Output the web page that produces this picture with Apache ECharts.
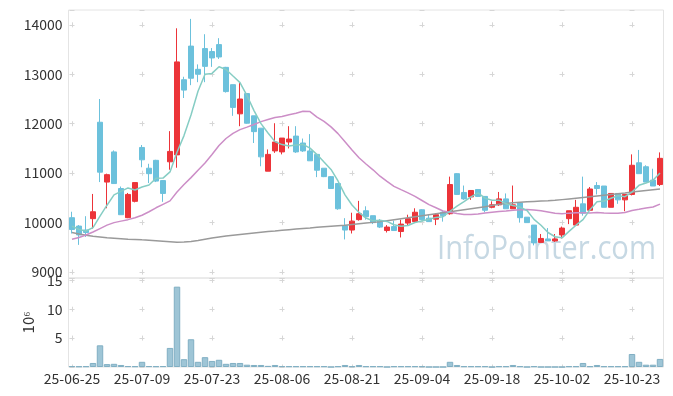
<!DOCTYPE html>
<html><head><meta charset="utf-8">
<script src="https://cdn.jsdelivr.net/npm/echarts@6/dist/echarts.min.js"></script>
<style>html,body{margin:0;padding:0;background:#fff}#c{width:673px;height:396px}</style>
</head><body><div id="c"></div>
<script>
const dates = ['25-06-25','25-06-26','25-06-27','25-06-30','25-07-01','25-07-02','25-07-03','25-07-04','25-07-07','25-07-08',
'25-07-09','25-07-10','25-07-11','25-07-14','25-07-15','25-07-16','25-07-17','25-07-18','25-07-21','25-07-22',
'25-07-23','25-07-24','25-07-25','25-07-28','25-07-29','25-07-30','25-07-31','25-08-01','25-08-04','25-08-05',
'25-08-06','25-08-07','25-08-08','25-08-11','25-08-12','25-08-13','25-08-14','25-08-18','25-08-19','25-08-20',
'25-08-21','25-08-22','25-08-25','25-08-26','25-08-27','25-08-28','25-08-29','25-09-01','25-09-02','25-09-03',
'25-09-04','25-09-05','25-09-08','25-09-09','25-09-10','25-09-11','25-09-12','25-09-15','25-09-16','25-09-17',
'25-09-18','25-09-19','25-09-22','25-09-23','25-09-24','25-09-25','25-09-26','25-09-29','25-09-30','25-10-01',
'25-10-02','25-10-10','25-10-13','25-10-14','25-10-15','25-10-16','25-10-17','25-10-20','25-10-21','25-10-22',
'25-10-23','25-10-24','25-10-27','25-10-28','25-10-29'];

const opens = [10100,9930,9850,10080,12030,10820,11430,10690,10100,10430,
11520,11100,11260,10850,11230,11370,12890,13570,13100,13520,
13460,13600,13140,12790,12200,12610,12160,11910,11040,11450,
11430,11630,11750,11610,11450,11380,11100,10930,10790,9940,
9850,10060,10240,10140,10040,9840,9920,9820,9990,10020,
10260,10090,10070,10210,10180,10990,10610,10520,10670,10530,
10310,10360,10480,10280,10400,10110,9950,9600,9670,9630,
9750,10080,9950,10380,10250,10750,10740,10310,10590,10460,
10570,11210,11130,10860,10770];

const closes = [9860,9750,9800,10220,11020,10970,10790,10160,10570,10810,
11270,10990,10840,10590,11440,13250,12680,12920,13000,13160,
13330,13350,12650,12330,12500,12010,11840,11330,11380,11630,
11710,11690,11430,11450,11250,11060,10930,10690,10280,9850,
10030,10180,10120,10000,9910,9910,9840,9970,10080,10210,
10060,10020,10160,10140,10770,10570,10480,10650,10530,10250,
10360,10480,10280,10360,10100,10000,9590,9680,9630,9670,
9890,10240,10310,10190,10680,10690,10310,10590,10460,10570,
11160,10990,10820,10740,11300];

const lows = [9780,9550,9710,9880,10820,10290,10790,10160,10090,10410,
11120,10800,10820,10420,11070,11110,12520,12780,12840,12840,
13150,13310,12630,12160,11950,12000,11610,11140,11040,11410,
11380,11500,11410,11430,11250,10920,10920,10680,10260,9660,
9780,10040,10060,9970,9890,9800,9840,9700,9950,10000,
10040,10020,9950,10020,10160,10560,10460,10460,10520,10210,
10290,10340,10280,10280,10000,10000,9540,9600,9630,9610,
9680,9970,9950,10140,10250,10570,10310,10310,10380,10230,
10550,10990,10820,10740,10740];

const highs = [10220,9950,10130,10580,12500,10990,11460,10730,10600,10810,
11570,11190,11270,10860,11850,13930,12950,14120,13200,13810,
13530,13730,13150,12790,12830,12610,12160,11910,11480,12010,
11710,11950,11950,11700,11790,11380,11100,10940,10790,10090,
10200,10440,10330,10140,10070,9950,10040,10060,10160,10290,
10270,10160,10190,10230,10930,11000,10750,10650,10680,10530,
10430,10620,10590,10750,10400,10110,9950,9770,9890,9770,
9920,10240,10460,10930,10720,10820,10740,10590,10590,10570,
11380,11470,11160,11090,11420];

// volume in millions of shares
const volumes = [0.15,0.1,0.12,0.7,3.75,0.5,0.55,0.35,0.15,0.12,
0.9,0.15,0.12,0.15,3.3,13.9,1.35,4.8,0.9,1.7,
1.05,1.25,0.55,0.7,0.7,0.4,0.35,0.35,0.2,0.35,
0.15,0.12,0.12,0.12,0.12,0.12,0.12,0,0.12,0.35,
0.12,0.35,0.12,0.12,0.12,0,0.12,0.12,0.12,0.12,
0.12,0,0,0,0.9,0.35,0.12,0.12,0.12,0.12,
0,0.12,0.12,0.35,0.12,0,0.12,0,0,0,
0,0.12,0.12,0.7,0.12,0.35,0.12,0.12,0.12,0.12,
2.25,0.9,0.4,0.4,1.4];

const ma5 = [9930,9860,9830,9900,10130,10352,10560,10632,10702,10660,
10720,10760,10896,10900,11026,11422,11760,12176,12658,13002,
13018,13152,13098,12964,12832,12568,12266,12002,11812,11638,
11578,11548,11568,11582,11506,11376,11224,11076,10842,10562,
10356,10206,10092,10036,10048,10024,9956,9926,9942,10002,
10032,10068,10106,10118,10230,10332,10424,10522,10600,10496,
10454,10454,10380,10346,10316,10244,10066,9946,9800,9714,
9692,9822,9948,10060,10262,10422,10436,10492,10546,10524,
10618,10754,10800,10856,11002];

const ma20 = [9665,9700,9750,9810,9880,9950,10000,10030,10060,10100,
10150,10220,10300,10370,10440,10620,10770,10910,11060,11205,
11378,11558,11701,11806,11880,11932,11985,12043,12084,12125,
12147,12182,12211,12254,12245,12135,12048,11936,11800,11635,
11470,11311,11185,11068,10939,10834,10734,10666,10601,10530,
10447,10364,10300,10235,10211,10186,10164,10162,10174,10194,
10211,10226,10234,10252,10261,10266,10253,10239,10216,10189,
10181,10192,10199,10202,10197,10203,10195,10192,10188,10204,
10244,10270,10297,10316,10375];

const ma120 = [9800,9770,9745,9725,9710,9695,9685,9675,9665,9660,
9652,9645,9635,9625,9615,9605,9610,9620,9640,9665,
9690,9710,9730,9745,9760,9775,9790,9805,9820,9832,
9845,9858,9870,9882,9893,9905,9915,9925,9935,9945,
9960,9975,9990,10005,10020,10040,10060,10080,10100,10120,
10140,10160,10180,10200,10220,10240,10260,10280,10300,10320,
10345,10370,10385,10400,10410,10420,10428,10435,10442,10450,
10465,10480,10495,10510,10525,10540,10555,10570,10585,10600,
10620,10635,10650,10665,10680];

const priceTicks = [9000,10000,11000,12000,13000,14000];
const volumeTicks = [5,10,15];
const volumeUnit = '10\u2076';
const watermark = 'InfoPointer.com';

const RED = '#ec3439', BLUE = '#6cc1dc';
const ohlc = opens.map((o, i) => [o, closes[i], lows[i], highs[i]]);

// layout
const G0 = {left: 68.5, right: 9.5, top: 10, height: 268};
const G1 = {left: 68.5, right: 9.5, top: 278, height: 89};
const P_MIN = 8880, P_MAX = 14300, V_MAX = 15.4;
const pPer = G0.height / (P_MAX - P_MIN) * 1000; // px per 1000
const pFirst = (P_MAX - 14000) / (P_MAX - P_MIN) * G0.height;
const vPer = G1.height / V_MAX * 5;
const vFirst = (V_MAX - 15) / V_MAX * G1.height;
const crossColor = '#d6d6d6';
const FONT = 'Noto Sans CJK KR';
const WM_FONT = '400 33px "Open Sans"';

const meas = document.createElement('canvas').getContext('2d');
meas.font = WM_FONT;
const wmW = meas.measureText(watermark).width;

const chart = echarts.init(document.getElementById('c'), null, {renderer: 'canvas'});
chart.setOption({
  animation: false,
  backgroundColor: '#fff',
  grid: [
    Object.assign({show: true, borderColor: '#e4e4e4', borderWidth: 1, containLabel: false}, G0),
    Object.assign({show: true, borderColor: '#e4e4e4', borderWidth: 1, containLabel: false}, G1)
  ],
  graphic: [{
    type: 'text', x: 437, y: 266, scaleX: 219 / wmW, z: -10, silent: true,
    style: {text: watermark, font: WM_FONT, fill: '#c6d8e3', verticalAlign: 'bottom'}
  }],
  xAxis: [
    {type: 'category', gridIndex: 0, data: dates, boundaryGap: true,
     axisLine: {show: false}, axisTick: {show: false}, axisLabel: {show: false},
     splitLine: {show: true, interval: 9, alignWithLabel: true,
       lineStyle: {color: crossColor, width: 1, type: [5, pPer - 5], dashOffset: 5 + (pPer - 5) - (pFirst - 2.5)}}},
    {type: 'category', gridIndex: 1, data: dates, boundaryGap: true,
     axisLine: {show: false}, axisTick: {show: false},
     axisLabel: {show: true, interval: 9, color: '#333', fontSize: 14, margin: 5, fontFamily: FONT},
     splitLine: {show: true, interval: 9, alignWithLabel: true,
       lineStyle: {color: crossColor, width: 1, type: [5, vPer - 5], dashOffset: 5 + (vPer - 5) - (vFirst - 2.5)}}}
  ],
  yAxis: [
    {type: 'value', gridIndex: 0, min: P_MIN, max: P_MAX, splitNumber: 5, scale: true,
     axisLine: {show: false}, axisTick: {show: false},
     axisLabel: {color: '#333', fontSize: 14, margin: 6, fontFamily: FONT,
       formatter: v => priceTicks.includes(v) ? String(v) : ''},
     splitLine: {show: true, lineStyle: {color: crossColor, width: 1, type: [5, 65], dashOffset: 69}}},
    {type: 'value', gridIndex: 1, min: 0, max: V_MAX, splitNumber: 3,
     name: volumeUnit, nameLocation: 'middle', nameGap: 31, nameRotate: 90,
     nameTextStyle: {color: '#333', fontSize: 15, fontFamily: FONT},
     axisLine: {show: false}, axisTick: {show: false},
     axisLabel: {color: '#333', fontSize: 14, margin: 6, fontFamily: FONT,
       formatter: v => volumeTicks.includes(v) ? String(v) : ''},
     splitLine: {show: true, lineStyle: {color: crossColor, width: 1, type: [5, 65], dashOffset: 69}}}
  ],
  series: [
    {type: 'candlestick', xAxisIndex: 0, yAxisIndex: 0, data: ohlc, barWidth: 5,
     itemStyle: {color: RED, color0: BLUE, borderColor: RED, borderColor0: BLUE, borderWidth: 1}},
    {type: 'line', xAxisIndex: 0, yAxisIndex: 0, data: ma120, symbol: 'none',
     lineStyle: {color: '#9a9a9a', width: 1.5}},
    {type: 'line', xAxisIndex: 0, yAxisIndex: 0, data: ma20, symbol: 'none',
     lineStyle: {color: '#cc8ec7', width: 1.5}},
    {type: 'line', xAxisIndex: 0, yAxisIndex: 0, data: ma5, symbol: 'none',
     lineStyle: {color: '#86cdc4', width: 1.5}},
    {type: 'bar', xAxisIndex: 1, yAxisIndex: 1, data: volumes, barCategoryGap: '8%',
     itemStyle: {color: '#9ec5d6', borderColor: '#80afc3', borderWidth: 1}}
  ]
});
</script>
</body></html>
